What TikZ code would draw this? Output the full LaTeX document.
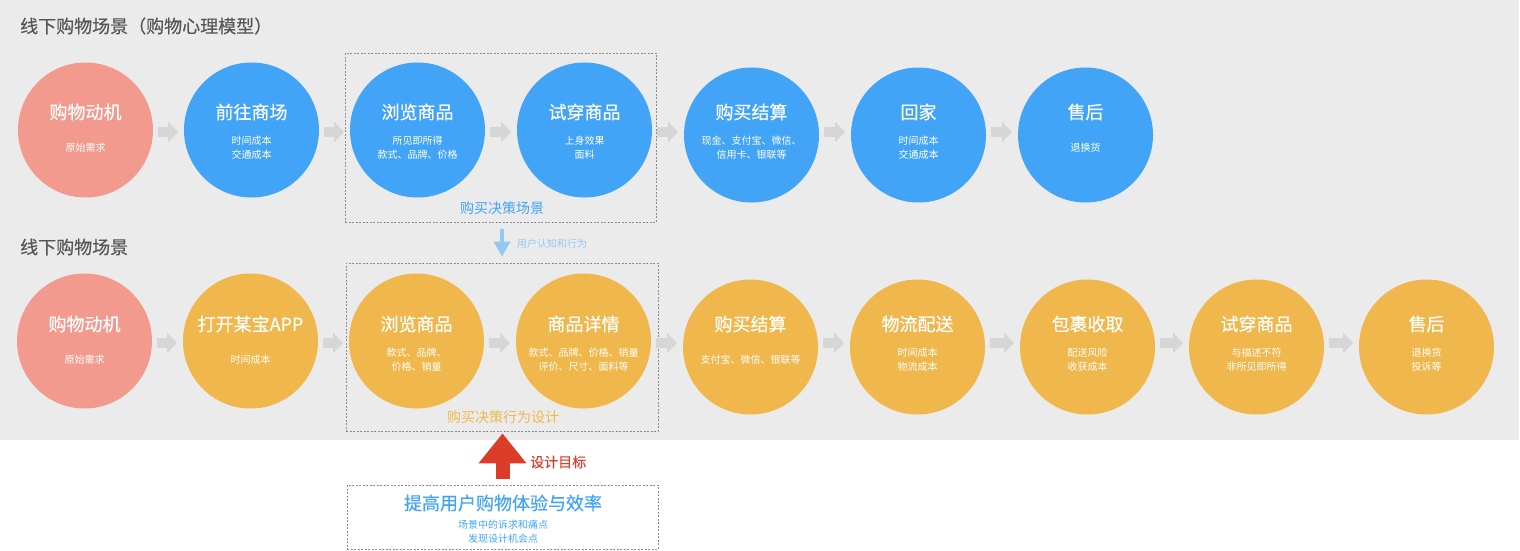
\documentclass[tikz,border=0pt]{standalone}
\usepackage{fontspec}
\newfontfamily\cjk{Noto Sans CJK SC}
\newfontfamily\cjkm[FakeBold=0.3]{Noto Sans CJK SC}
\usepackage{xcolor}
\usetikzlibrary{positioning,arrows.meta}

\definecolor{bgGray}{HTML}{EBEBEB}
\definecolor{arrGray}{HTML}{D6D6D6}
\definecolor{headGray}{HTML}{555555}
\definecolor{motivePink}{HTML}{F29A8E}
\definecolor{sceneBlue}{HTML}{42A4F7}
\definecolor{appOrange}{HTML}{EFB74C}
\definecolor{cogBlue}{HTML}{95C8F3}
\definecolor{goalRed}{HTML}{DC3D29}

\begin{document}
\begin{tikzpicture}[
  x=1pt, y=-1pt,
  font=\cjk,
  node distance=31pt,
  stage/.style={circle, minimum size=135pt, inner sep=0pt, outer sep=0pt},
  motive/.style={stage, fill=motivePink},
  offline/.style={stage, fill=sceneBlue},
  online/.style={stage, fill=appOrange},
  ttl/.style={text=white, inner sep=0pt, font=\cjkm\fontsize{18pt}{20pt}\selectfont},
  note/.style={text=white, align=center, inner sep=0pt, font=\cjk\fontsize{10pt}{14pt}\selectfont},
  heading/.style={anchor=west, inner sep=0pt, text=headGray, font=\cjkm\fontsize{18pt}{20pt}\selectfont},
  zone/.style={draw=black!45, dash pattern=on 2pt off 1.5pt, line width=0.7pt, inner sep=0pt},
  zonelbl/.style={inner sep=0pt, font=\cjk\fontsize{14pt}{16pt}\selectfont},
  flow/.style={-{Triangle[length=10pt, width=20pt]}, line width=10pt, arrGray, shorten <=5pt, shorten >=6pt},
  cog/.style={-{Triangle[length=15pt, width=16pt]}, line width=4pt, cogBlue},
  goal/.style={-{Triangle[length=30pt, width=46pt]}, line width=14pt, goalRed},
]
\useasboundingbox (0,0) rectangle (1520,551);
\fill[bgGray] (0,0) rectangle (1519,440);

% --- Row lines ---
\coordinate (ttlA) at (0,112);
\coordinate (noteA) at (0,148);
\coordinate (arrA) at (0,132);
\coordinate (ttlB) at (0,324);
\coordinate (noteB) at (0,360);
\coordinate (arrB) at (0,343);

% --- Headings ---
\node[heading] (headA) at (20,26) {线下购物场景（购物心理模型）};
\node[heading] (headB) at (20,247) {线下购物场景};

% --- Decision zones ---
\node[zone, minimum width=311pt, minimum height=169pt] (zoneA) at (500.5,137.5) {};
\node[zonelbl, text=sceneBlue] (zoneAlbl) at (502,208) {购买决策场景};
\node[zone, minimum width=312pt, minimum height=168pt] (zoneB) at (502,347) {};
\node[zonelbl, text=appOrange] (zoneBlbl) at (503,417) {购买决策行为设计};

% --- Row A: offline psychology ---
\node[motive] (motiveA) at (85.5,130) {};
\node[offline, right=of motiveA] (mall) {};
\node[offline, right=of mall] (browseA) {};
\node[offline, right=32pt of browseA] (tryA) {};
\node[offline, right=32pt of tryA, yshift=-5pt] (payA) {};
\node[offline, right=32pt of payA] (home) {};
\node[offline, right=32pt of home] (afterA) {};

\node[ttl] (motiveAt) at (motiveA |- ttlA) {购物动机};
\node[note] (motiveAn) at (motiveA |- noteA) {原始需求};
\node[ttl] (mallt) at (mall |- ttlA) {前往商场};
\node[note] (malln) at (mall |- noteA) {时间成本\\交通成本};
\node[ttl] (browseAt) at (browseA |- ttlA) {浏览商品};
\node[note] (browseAn) at (browseA |- noteA) {所见即所得\\款式、品牌、价格};
\node[ttl] (tryAt) at (tryA |- ttlA) {试穿商品};
\node[note] (tryAn) at (tryA |- noteA) {上身效果\\面料};
\node[ttl] (payAt) at (payA |- ttlA) {购买结算};
\node[note] (payAn) at (payA |- noteA) {现金、支付宝、微信、\\信用卡、银联等};
\node[ttl] (homet) at (home |- ttlA) {回家};
\node[note] (homen) at (home |- noteA) {时间成本\\交通成本};
\node[ttl] (afterAt) at (afterA |- ttlA) {售后};
\node[note] (afterAn) at (afterA |- noteA) {退换货};

% --- Row B: online shopping ---
\node[motive] (motiveB) at (84.5,341) {};
\node[online, right=of motiveB] (app) {};
\node[online, right=of app] (browseB) {};
\node[online, right=32pt of browseB] (detail) {};
\node[online, right=32pt of detail, yshift=-6pt] (payB) {};
\node[online, right=32pt of payB] (ship) {};
\node[online, right=35pt of ship] (receive) {};
\node[online, right=34pt of receive] (tryB) {};
\node[online, right=35pt of tryB] (afterB) {};

\node[ttl] (motiveBt) at (motiveB |- ttlB) {购物动机};
\node[note] (motiveBn) at (motiveB |- noteB) {原始需求};
\node[ttl] (appt) at (app |- ttlB) {打开某宝APP};
\node[note] (appn) at (app |- noteB) {时间成本};
\node[ttl] (browseBt) at (browseB |- ttlB) {浏览商品};
\node[note] (browseBn) at (browseB |- noteB) {款式、品牌、\\价格、销量};
\node[ttl] (detailt) at (detail |- ttlB) {商品详情};
\node[note] (detailn) at (detail |- noteB) {款式、品牌、价格、销量\\评价、尺寸、面料等};
\node[ttl] (payBt) at (payB |- ttlB) {购买结算};
\node[note] (payBn) at (payB |- noteB) {支付宝、微信、银联等};
\node[ttl] (shipt) at (ship |- ttlB) {物流配送};
\node[note] (shipn) at (ship |- noteB) {时间成本\\物流成本};
\node[ttl] (receivet) at (receive |- ttlB) {包裹收取};
\node[note] (receiven) at (receive |- noteB) {配送风险\\收获成本};
\node[ttl] (tryBt) at (tryB |- ttlB) {试穿商品};
\node[note] (tryBn) at (tryB |- noteB) {与描述不符\\非所见即所得};
\node[ttl] (afterBt) at (afterB |- ttlB) {售后};
\node[note] (afterBn) at (afterB |- noteB) {退换货\\投诉等};

% --- Goal box ---
\node[zone, minimum width=311pt, minimum height=64pt] (goalBox) at (502.5,517) {};
\node[inner sep=0pt, text=sceneBlue, font=\cjkm\fontsize{18pt}{20pt}\selectfont] (goalTtl) at (503,503) {提高用户购物体验与效率};
\node[inner sep=0pt, text=sceneBlue, align=center, font=\cjk\fontsize{10pt}{14pt}\selectfont] (goalNote) at (503,532) {场景中的诉求和痛点\\发现设计机会点};
\node[anchor=west, inner sep=0pt, text=goalRed, font=\cjkm\fontsize{14pt}{16pt}\selectfont] (goalLbl) at (530,462) {设计目标};
\node[anchor=west, inner sep=0pt, text=cogBlue, font=\cjk\fontsize{10pt}{12pt}\selectfont] (cogLbl) at (517,244) {用户认知和行为};

% --- Flow arrows ---
\draw[flow] (motiveA.east |- arrA) -- (mall.west |- arrA);
\draw[flow] (mall.east |- arrA) -- (browseA.west |- arrA);
\draw[flow] (browseA.east |- arrA) -- (tryA.west |- arrA);
\draw[flow] (tryA.east |- arrA) -- (payA.west |- arrA);
\draw[flow] (payA.east |- arrA) -- (home.west |- arrA);
\draw[flow] (home.east |- arrA) -- (afterA.west |- arrA);

\draw[flow] (motiveB.east |- arrB) -- (app.west |- arrB);
\draw[flow] (app.east |- arrB) -- (browseB.west |- arrB);
\draw[flow] (browseB.east |- arrB) -- (detail.west |- arrB);
\draw[flow] (detail.east |- arrB) -- (payB.west |- arrB);
\draw[flow] (payB.east |- arrB) -- (ship.west |- arrB);
\draw[flow] (ship.east |- arrB) -- (receive.west |- arrB);
\draw[flow] (receive.east |- arrB) -- (tryB.west |- arrB);
\draw[flow] (tryB.east |- arrB) -- (afterB.west |- arrB);

\draw[cog, shorten <=7pt, shorten >=6pt] (zoneA.south -| zoneB.north) -- (zoneB.north);
\draw[goal, shorten <=6pt, shorten >=2pt] (goalBox.north) -- (goalBox.north |- zoneB.south);

\end{tikzpicture}
\end{document}
